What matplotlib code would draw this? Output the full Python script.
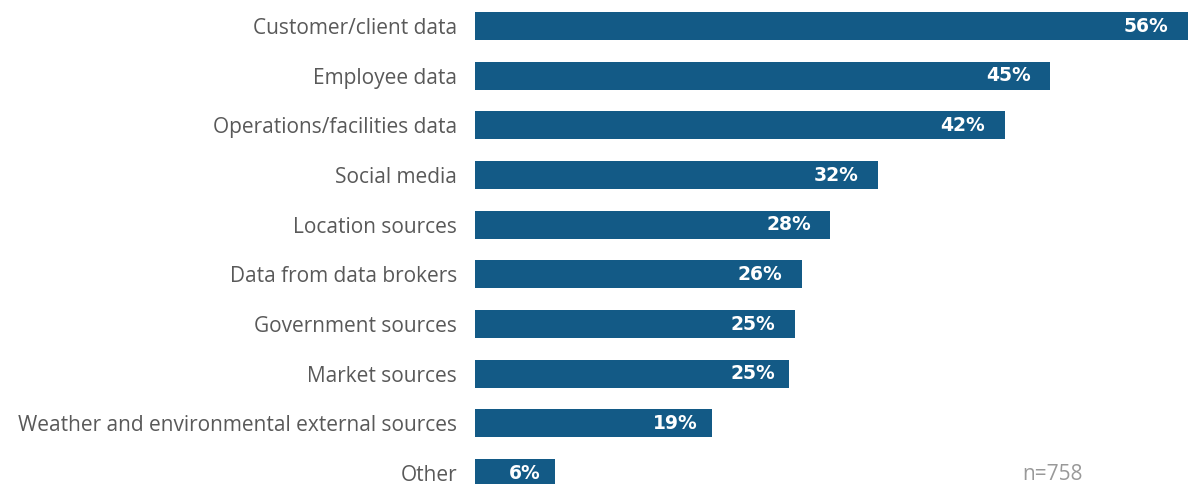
import matplotlib
matplotlib.use("Agg")
import matplotlib.pyplot as plt

categories = ["Customer/client data", "Employee data", "Operations/facilities data",
              "Social media", "Location sources", "Data from data brokers",
              "Government sources", "Market sources",
              "Weather and environmental external sources", "Other"]
values = [56.0, 45.2, 41.6, 31.65, 27.9, 25.66, 25.1, 24.64, 18.6, 6.28]
value_labels = ["56%", "45%", "42%", "32%", "28%", "26%", "25%", "25%", "19%", "6%"]
note = "n=758"

W, H = 1190, 484
fig = plt.figure(figsize=(W / 100, H / 100), dpi=100)
ax = fig.add_axes([475 / W, 0, 713 / W, 1])

bar_color = "#135a86"
text_color = "#595959"
pitch = 49.67
ypos = list(range(len(categories)))
ax.barh(ypos, values, height=28 / pitch, color=bar_color, edgecolor="none")
ax.set_xlim(0, 56)
ax.set_ylim((H - 26) / pitch, -26 / pitch)

ax.set_yticks(ypos)
ax.set_yticklabels(categories, fontsize=15, color=text_color, family="Open Sans")
ax.tick_params(axis="y", length=0, pad=13)
ax.set_xticks([])
for s in ax.spines.values():
    s.set_visible(False)

for y, v, lab in zip(ypos, values, value_labels):
    off = -14 if v > 25 else -10
    ax.annotate(lab, xy=(v, y), xytext=(off, 0), textcoords="offset points",
                ha="right", va="center", color="white", fontsize=13.5,
                fontweight="bold", family="DejaVu Sans")

fig.text(1053 / W, 1 - 474 / H, note, ha="center", va="center", fontsize=15,
         color="#999999", family="Open Sans")

fig.savefig("out.png", dpi=100)
